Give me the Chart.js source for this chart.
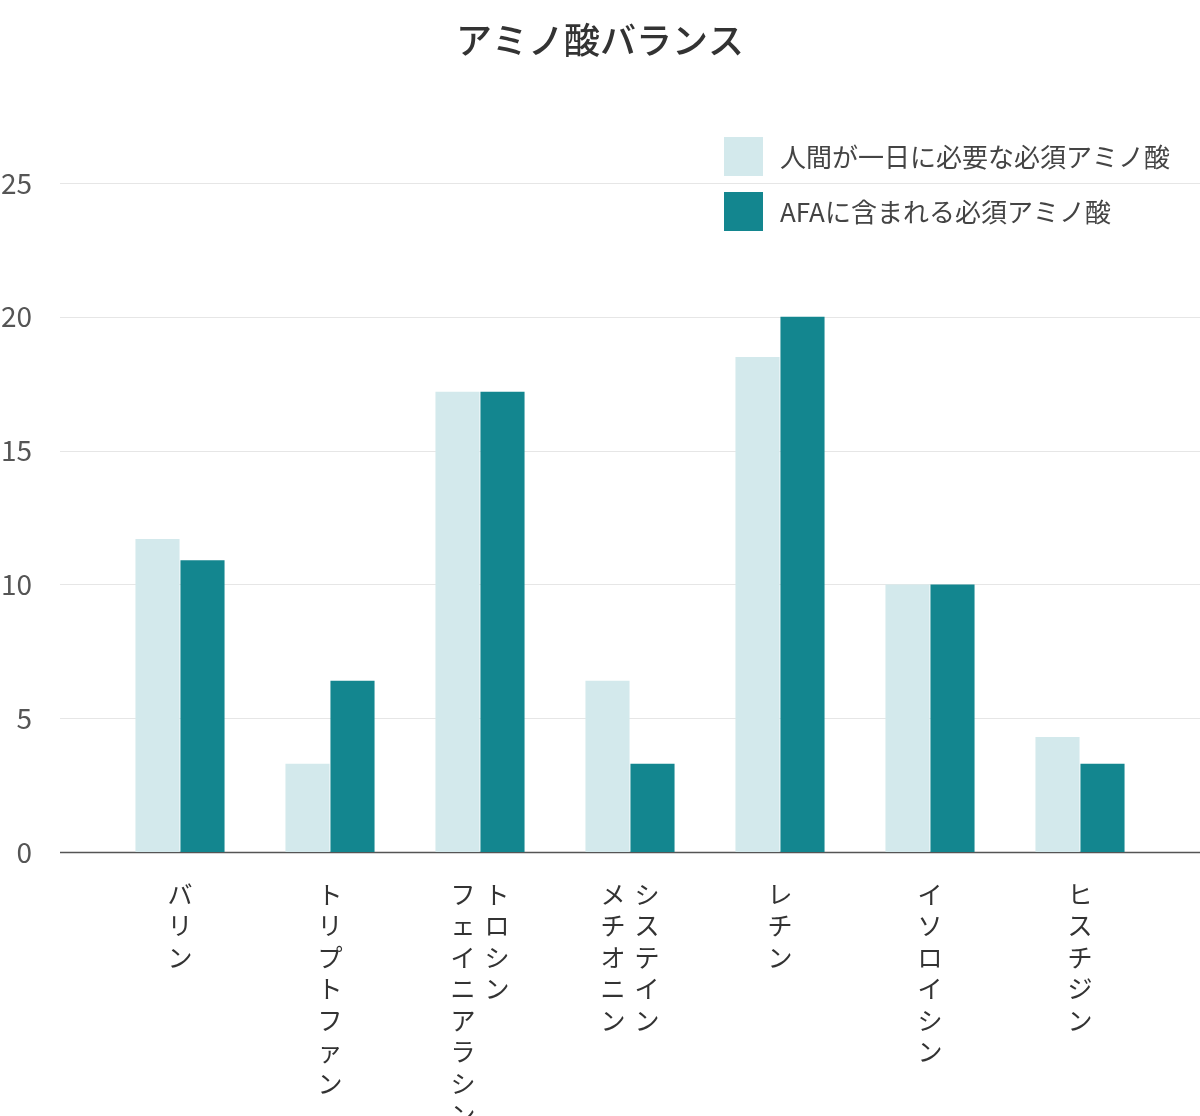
<!DOCTYPE html>
<html><head><meta charset="utf-8">
<script src="https://cdn.jsdelivr.net/npm/chart.js@4"></script>
<style>html,body{margin:0;padding:0;background:#fff}#w{width:1200px;height:1116px}</style>
</head><body><div id="w"><canvas id="c"></canvas></div>
<script>
const categories = [["バリン"],["トリプトファン"],["トロシン","フェイニアラシン"],["システイン","メチオニン"],["レチン"],["イソロイシン"],["ヒスチジン"]];
const humanNeed = [11.7, 3.3, 17.2, 6.4, 18.5, 10.0, 4.3];
const afaContent = [10.9, 6.4, 17.2, 3.3, 20.0, 10.0, 3.3];
const seriesNames = ["人間が一日に必要な必須アミノ酸","AFAに含まれる必須アミノ酸"];
const colors = ["#d3e9ec","#13868f"];
const titleText = 'アミノ酸バランス';
const F = '"Noto Sans CJK JP","Noto Sans",sans-serif';

const deco = {
  id:'deco',
  beforeDatasetsDraw(chart){
    const ctx=chart.ctx, y=chart.scales.y;
    ctx.save();
    y.ticks.forEach(t=>{
      const py=Math.round(y.getPixelForValue(t.value))+0.5;
      ctx.strokeStyle = t.value===0 ? '#555' : '#e6e6e6';
      ctx.lineWidth = t.value===0 ? 1.5 : 1;
      ctx.beginPath(); ctx.moveTo(60,py); ctx.lineTo(1200,py); ctx.stroke();
    });
    ctx.restore();
  },
  afterDraw(chart){
    const ctx=chart.ctx, x=chart.scales.x;
    ctx.save();
    ctx.textBaseline='middle';
    ctx.font='500 36px '+F; ctx.fillStyle='#333'; ctx.textAlign='center';
    ctx.fillText(titleText,600,40);
    ctx.font='25px '+F; ctx.fillStyle='#333';
    categories.forEach((cols,i)=>{
      const cx=x.getPixelForValue(i);
      const n=cols.length;
      cols.forEach((s,j)=>{
        const colX = cx + (n===1?0:(j===0?17:-17));
        [...s].forEach((ch,k)=>{ ctx.fillText(ch,colX,894+k*31.5); });
      });
    });
    ctx.textAlign='left'; ctx.font='26px '+F;
    seriesNames.forEach((n,i)=>{
      const top=137+i*55;
      ctx.fillStyle=colors[i]; ctx.fillRect(724,top,39,39);
      ctx.fillStyle='#444'; ctx.fillText(n,780,top+20);
    });
    ctx.restore();
  }
};

new Chart(document.getElementById('c'),{
  type:'bar',
  data:{labels:categories.map(c=>c.join('')),datasets:[
    {label:seriesNames[0],data:humanNeed,backgroundColor:colors[0],categoryPercentage:0.6,barPercentage:0.98},
    {label:seriesNames[1],data:afaContent,backgroundColor:colors[1],categoryPercentage:0.6,barPercentage:0.98}
  ]},
  options:{
    responsive:true,maintainAspectRatio:false,animation:false,
    layout:{padding:{top:183,bottom:256,left:0,right:45}},
    plugins:{legend:{display:false},tooltip:{enabled:false},title:{display:false}},
    scales:{
      x:{grid:{display:false},border:{display:false},ticks:{display:false}},
      y:{min:0,max:25,grid:{display:false},border:{display:false},
         afterFit(s){s.width=105;},
         ticks:{stepSize:5,color:'#555',padding:65,font:{family:F,size:28}}}
    }
  },
  plugins:[deco]
});
</script></body></html>
